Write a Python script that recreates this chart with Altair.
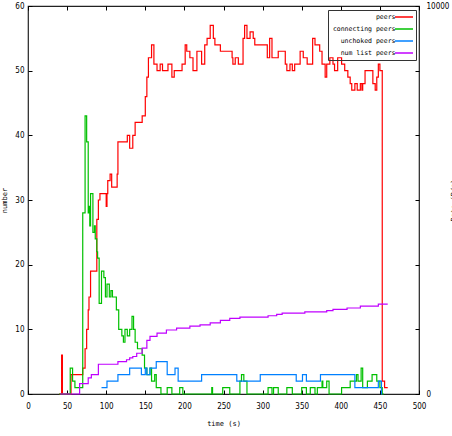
import altair as alt
import pandas as pd

series_names = ["peers", "connecting peers", "unchoked peers", "num list peers"]
series_colors = ["#ff0000", "#00c000", "#0080ff", "#c000ff"]

peers_t = [40, 43, 44, 55, 70, 73, 75, 77, 78, 80, 88, 90, 92, 100, 101, 102, 105, 107, 114, 115,
           127, 130, 134, 137, 146, 150, 152, 154, 158, 161, 165, 169, 172, 179, 184, 187, 197, 201,
           203, 207, 211, 216, 222, 226, 229, 233, 237, 239, 246, 261, 262, 265, 269, 275, 277, 280,
           284, 288, 290, 306, 309, 312, 320, 329, 331, 335, 338, 341, 348, 352, 357, 364, 367, 373,
           376, 380, 382, 386, 390, 392, 396, 401, 405, 409, 412, 414, 418, 421, 425, 427, 428, 431,
           441, 444, 446, 448, 450, 453, 456, 460]
peers_v = [0, 6, 0, 3, 4, 7, 10, 13, 15, 19, 27, 30, 31, 29, 31, 33, 34, 32, 34, 39,
           40, 38, 40, 42, 43, 46, 49, 52, 54, 51, 50, 51, 50, 51, 49, 50, 51, 54,
           53, 52, 50, 53, 51, 54, 55, 57, 55, 54, 53, 52, 51, 52, 51, 55, 57, 55,
           56, 55, 54, 52, 55, 52, 53, 51, 50, 51, 50, 51, 53, 52, 51, 55, 54, 53,
           51, 49, 51, 52, 51, 50, 52, 51, 50, 49, 48, 47, 48, 47, 48, 47, 48, 50,
           48, 47, 49, 51, 50, 2, 1, 1]

conn_t = [40, 54, 57, 60, 67, 70, 73, 75, 77, 78, 79, 80, 83, 85, 86, 88, 89, 91, 94, 97, 99, 101,
          104, 106, 108, 113, 116, 120, 122, 124, 127, 130, 133, 135, 137, 140, 146, 149, 152, 156,
          158, 162, 164, 170, 178, 184, 194, 198, 235, 236, 249, 258, 271, 273, 276, 280, 307, 312,
          314, 320, 331, 338, 350, 356, 361, 367, 370, 376, 377, 382, 385, 401, 412, 420, 422, 426,
          428, 434, 440, 446, 450, 453, 455]
conn_v = [0, 4, 2, 1, 1, 28, 43, 39, 28, 29, 26, 31, 25, 26, 24, 22, 21, 14, 19, 18, 15, 17,
          15, 16, 15, 13, 10, 9, 8, 10, 9, 10, 12, 10, 8, 7, 6, 4, 3, 4,
          2, 3, 1, 0, 1, 0, 1, 0, 1, 0, 1, 0, 2, 3, 2, 0, 1, 0,
          1, 0, 1, 0, 1, 0, 1, 0, 1, 2, 1, 2, 0, 1, 2, 3, 2, 4,
          1, 2, 3, 2, 1, 0, 0]

unch_t = [94, 101, 115, 130, 145, 150, 152, 156, 164, 178, 188, 192, 222, 267, 297, 343, 351, 356,
          374, 418, 444, 448, 452, 453]
unch_v = [1, 2, 3, 4, 3, 4, 3, 4, 5, 3, 4, 2, 3, 2, 3, 2, 3, 2,
          3, 1, 1, 2, 0, 0]

numl_t = [41, 66, 77, 81, 90, 115, 126, 130, 134, 139, 146, 152, 156, 165, 177, 190, 207, 220, 233,
          246, 258, 271, 307, 318, 325, 354, 382, 390, 408, 425, 448, 460]
numl_v = [0, 1.6, 2.5, 3, 4.6, 5, 5.3, 5.6, 5.8, 6.3, 7.1, 8.3, 8.9, 9.4, 9.9, 10.2, 10.5, 10.7, 11,
          11.4, 11.7, 11.9, 12.1, 12.3, 12.5, 12.7, 12.9, 13.1, 13.3, 13.6, 13.9, 13.9]

x_ticks = [0, 50, 100, 150, 200, 250, 300, 350, 400, 450, 500]
y_ticks = [0, 10, 20, 30, 40, 50, 60]
rate_ticks = [0, 10000]

rows = []
for name, ts, vs in zip(series_names, [peers_t, conn_t, unch_t, numl_t],
                        [peers_v, conn_v, unch_v, numl_v]):
    for t, v in zip(ts, vs):
        rows.append({"series": name, "t": t, "v": v})
df = pd.DataFrame(rows)

W, H = 391, 388
LFONT = "'Liberation Sans Narrow', 'DejaVu Sans Condensed', sans-serif"
MONO = "'DejaVu Sans Mono', monospace"

xs = alt.Scale(domain=[0, 500], nice=False, zero=False)
ys = alt.Scale(domain=[0, 60], nice=False)

# legend part 1: line samples + frame (labels left empty)
legend_symbols = alt.Legend(orient="none", legendX=300, legendY=4, title=None,
                            symbolType="stroke", symbolSize=324, symbolStrokeWidth=1.5,
                            symbolOffset=64, labelOffset=0, labelExpr="''",
                            clipHeight=10, rowPadding=2, padding=2,
                            strokeColor="#333333", labelFontSize=6.5)
# legend part 2: right-aligned names to the left of the samples
legend_labels = alt.Legend(orient="none", legendX=300, legendY=4, title=None,
                           symbolType="circle", symbolSize=4, symbolOpacity=0,
                           symbolStrokeWidth=0, labelAlign="right", labelOffset=59,
                           clipHeight=10, rowPadding=2, padding=2,
                           labelFont=MONO, labelFontSize=6.5, labelColor="black")

lines = alt.Chart(df).mark_line(interpolate="step-after", strokeWidth=1.2).encode(
    x=alt.X("t:Q", scale=xs,
            axis=alt.Axis(orient="bottom", values=x_ticks, tickSize=0, domain=False, grid=False,
                          labelPadding=8, format="d", labelFont=LFONT, labelFontSize=8,
                          labelOverlap=False, labelFlush=False, labelBound=False,
                          labelColor="black", title="time (s)", titleFont=MONO, titleFontSize=7,
                          titleFontWeight="normal", titleColor="black", titleY=29,
                          titleBaseline="middle")),
    y=alt.Y("v:Q", scale=ys,
            axis=alt.Axis(orient="left", values=y_ticks, tickSize=0, domain=False, grid=False,
                          labelPadding=4, format="d", labelFont=LFONT, labelFontSize=8,
                          labelOverlap=False, labelFlush=False, labelBound=False,
                          labelColor="black", title="number", titleFont=MONO, titleFontSize=7,
                          titleFontWeight="normal", titleColor="black", titleAngle=270,
                          titleX=-24, titleY=H / 2, titleBaseline="middle")),
    color=alt.Color("series:N", scale=alt.Scale(domain=series_names, range=series_colors),
                    legend=legend_symbols),
)

names_df = pd.DataFrame({"series": series_names})
legend_text_layer = alt.Chart(names_df).mark_point(filled=True, opacity=0).encode(
    fill=alt.Fill("series:N", sort=None, scale=alt.Scale(range=series_colors),
                  legend=legend_labels)
)

tick_x_df = pd.DataFrame({"xt": x_ticks})
tick_y_df = pd.DataFrame({"yt": y_ticks})
rate_df = pd.DataFrame({"r": rate_ticks})

tick_common = dict(labels=False, domain=False, grid=False, tickSize=4, tickColor="black",
                   tickWidth=1, title=None)

bottom_ticks = alt.Chart(tick_x_df).mark_point(opacity=0).encode(
    x=alt.X("xt:Q", scale=xs, axis=alt.Axis(orient="top", offset=-H, values=x_ticks, **tick_common)))
top_ticks = alt.Chart(tick_x_df).mark_point(opacity=0).encode(
    x=alt.X("xt:Q", scale=xs, axis=alt.Axis(orient="bottom", offset=-H, values=x_ticks, **tick_common)))
left_ticks = alt.Chart(tick_y_df).mark_point(opacity=0).encode(
    y=alt.Y("yt:Q", scale=ys, axis=alt.Axis(orient="right", offset=-W, values=y_ticks, **tick_common)))
right_ticks = alt.Chart(tick_y_df).mark_point(opacity=0).encode(
    y=alt.Y("yt:Q", scale=ys, axis=alt.Axis(orient="left", offset=-W, values=y_ticks, **tick_common)))

rate_axis = alt.Chart(rate_df).mark_point(opacity=0).encode(
    y=alt.Y("r:Q", scale=alt.Scale(domain=[0, 10000], nice=False),
            axis=alt.Axis(orient="right", values=rate_ticks, tickSize=0, domain=False, grid=False,
                          labelPadding=7, format="d", labelFont=LFONT, labelFontSize=8,
                          labelOverlap=False, labelFlush=False, labelBound=False,
                          labelColor="black", title="Rate (B/s)", titleFont=MONO, titleFontSize=7,
                          titleFontWeight="normal", titleColor="black", titleAngle=270,
                          titleX=34, titleY=H / 2, titleBaseline="middle")))

chart = alt.layer(lines, legend_text_layer, bottom_ticks, top_ticks, left_ticks, right_ticks,
                  rate_axis).resolve_scale(
    y="independent"
).resolve_axis(
    x="independent", y="independent"
).properties(
    width=W, height=H,
    autosize=alt.AutoSizeParams(type="none"),
    padding={"left": 28, "top": 6, "right": 33, "bottom": 42},
    background="white",
).configure_view(
    stroke="#222222", strokeWidth=1.2
)

chart.save("out.html", embed_options={"renderer": "svg", "actions": False})
